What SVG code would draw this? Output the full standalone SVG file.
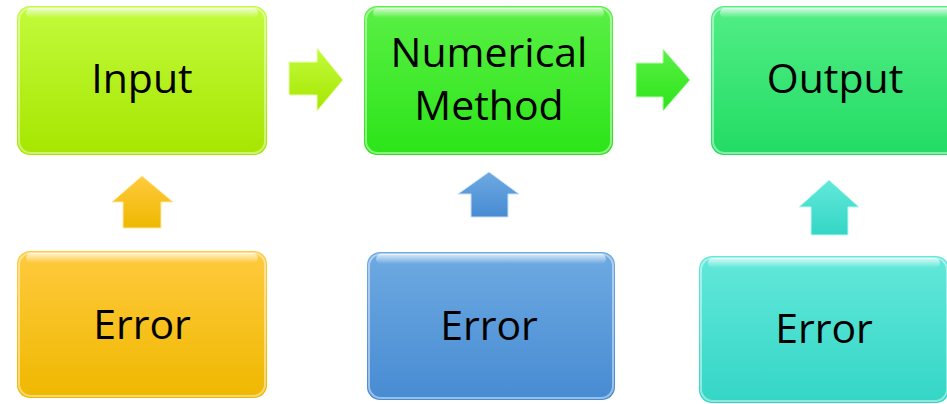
<svg xmlns="http://www.w3.org/2000/svg" width="947" height="404" viewBox="0 0 947 404">
<defs>
<linearGradient id="gLime" x1="0" y1="0" x2="0" y2="1"><stop offset="0" stop-color="#c2fb3c"/><stop offset="1" stop-color="#a6e600"/></linearGradient>
<linearGradient id="gGreen" x1="0" y1="0" x2="0" y2="1"><stop offset="0" stop-color="#5af046"/><stop offset="1" stop-color="#2ce418"/></linearGradient>
<linearGradient id="gMint" x1="0" y1="0" x2="0" y2="1"><stop offset="0" stop-color="#52ee86"/><stop offset="1" stop-color="#22dc64"/></linearGradient>
<linearGradient id="gOrange" x1="0" y1="0" x2="0" y2="1"><stop offset="0" stop-color="#ffca3e"/><stop offset="1" stop-color="#efb800"/></linearGradient>
<linearGradient id="gBlue" x1="0" y1="0" x2="0" y2="1"><stop offset="0" stop-color="#6eaae2"/><stop offset="1" stop-color="#478bd2"/></linearGradient>
<linearGradient id="gTeal" x1="0" y1="0" x2="0" y2="1"><stop offset="0" stop-color="#62e8da"/><stop offset="1" stop-color="#34d6c6"/></linearGradient>
<linearGradient id="gShine" x1="0" y1="0" x2="0" y2="1"><stop offset="0" stop-color="#ffffff" stop-opacity="0.75"/><stop offset="1" stop-color="#ffffff" stop-opacity="0"/></linearGradient>
</defs>
<style>
.lbl{font-family:"Open Sans","Noto Sans","Liberation Sans",sans-serif;font-size:41px;fill:#000;text-anchor:middle}
.edge{fill:none;stroke:#ffffff;stroke-opacity:0.45;stroke-width:2}
.shine{fill:url(#gShine)}
</style>
<g id="input">
<rect x="17" y="6" width="250" height="149" rx="13" fill="url(#gLime)"/>
<rect x="19" y="8" width="246" height="145" rx="12" class="edge"/>
<rect x="26" y="8" width="232" height="10" rx="5" class="shine"/>
<text class="lbl" x="142" y="93">Input</text>
</g>
<g id="numerical">
<rect x="364" y="6" width="249" height="149" rx="13" fill="url(#gGreen)"/>
<rect x="366" y="8" width="245" height="145" rx="12" class="edge"/>
<rect x="373" y="8" width="231" height="10" rx="5" class="shine"/>
<text class="lbl" x="489" y="67">Numerical</text>
<text class="lbl" x="489" y="120">Method</text>
</g>
<g id="output">
<rect x="711" y="6" width="250" height="149" rx="13" fill="url(#gMint)"/>
<rect x="713" y="8" width="246" height="145" rx="12" class="edge"/>
<rect x="720" y="8" width="232" height="10" rx="5" class="shine"/>
<text class="lbl" x="835" y="93">Output</text>
</g>
<g id="error1">
<rect x="17" y="251" width="250" height="147" rx="13" fill="url(#gOrange)"/>
<rect x="19" y="253" width="246" height="143" rx="12" class="edge"/>
<rect x="26" y="253" width="232" height="10" rx="5" class="shine"/>
<text class="lbl" x="142" y="339">Error</text>
</g>
<g id="error2">
<rect x="367" y="252" width="248" height="148" rx="13" fill="url(#gBlue)"/>
<rect x="369" y="254" width="244" height="144" rx="12" class="edge"/>
<rect x="376" y="254" width="230" height="10" rx="5" class="shine"/>
<text class="lbl" x="489" y="340">Error</text>
</g>
<g id="error3">
<rect x="699" y="256" width="250" height="147" rx="13" fill="url(#gTeal)"/>
<rect x="701" y="258" width="246" height="143" rx="12" class="edge"/>
<rect x="708" y="258" width="232" height="10" rx="5" class="shine"/>
<text class="lbl" x="824" y="343">Error</text>
</g>
<g id="connectors">
<path d="M289,62 H317 V48 L343,80 L317,111 V95 H289 Z" fill="url(#gLime)" stroke="#e8ffb0" stroke-width="1"/>
<path d="M636,63 H663 V49 L690,80 L663,111 V97 H636 Z" fill="url(#gGreen)" stroke="#b8ffb0" stroke-width="1"/>
<path d="M123,228 V202 H112 L142,176 L173,202 H161 V228 Z" fill="url(#gOrange)" stroke="#ffe9a0" stroke-width="1"/>
<path d="M471,217 V194 H458 L489,172 L519,194 H508 V217 Z" fill="url(#gBlue)" stroke="#c8e0f8" stroke-width="1"/>
<path d="M811,235 V207 H799 L829,180 L859,207 H848 V235 Z" fill="url(#gTeal)" stroke="#c0f8f0" stroke-width="1"/>
</g>
</svg>
